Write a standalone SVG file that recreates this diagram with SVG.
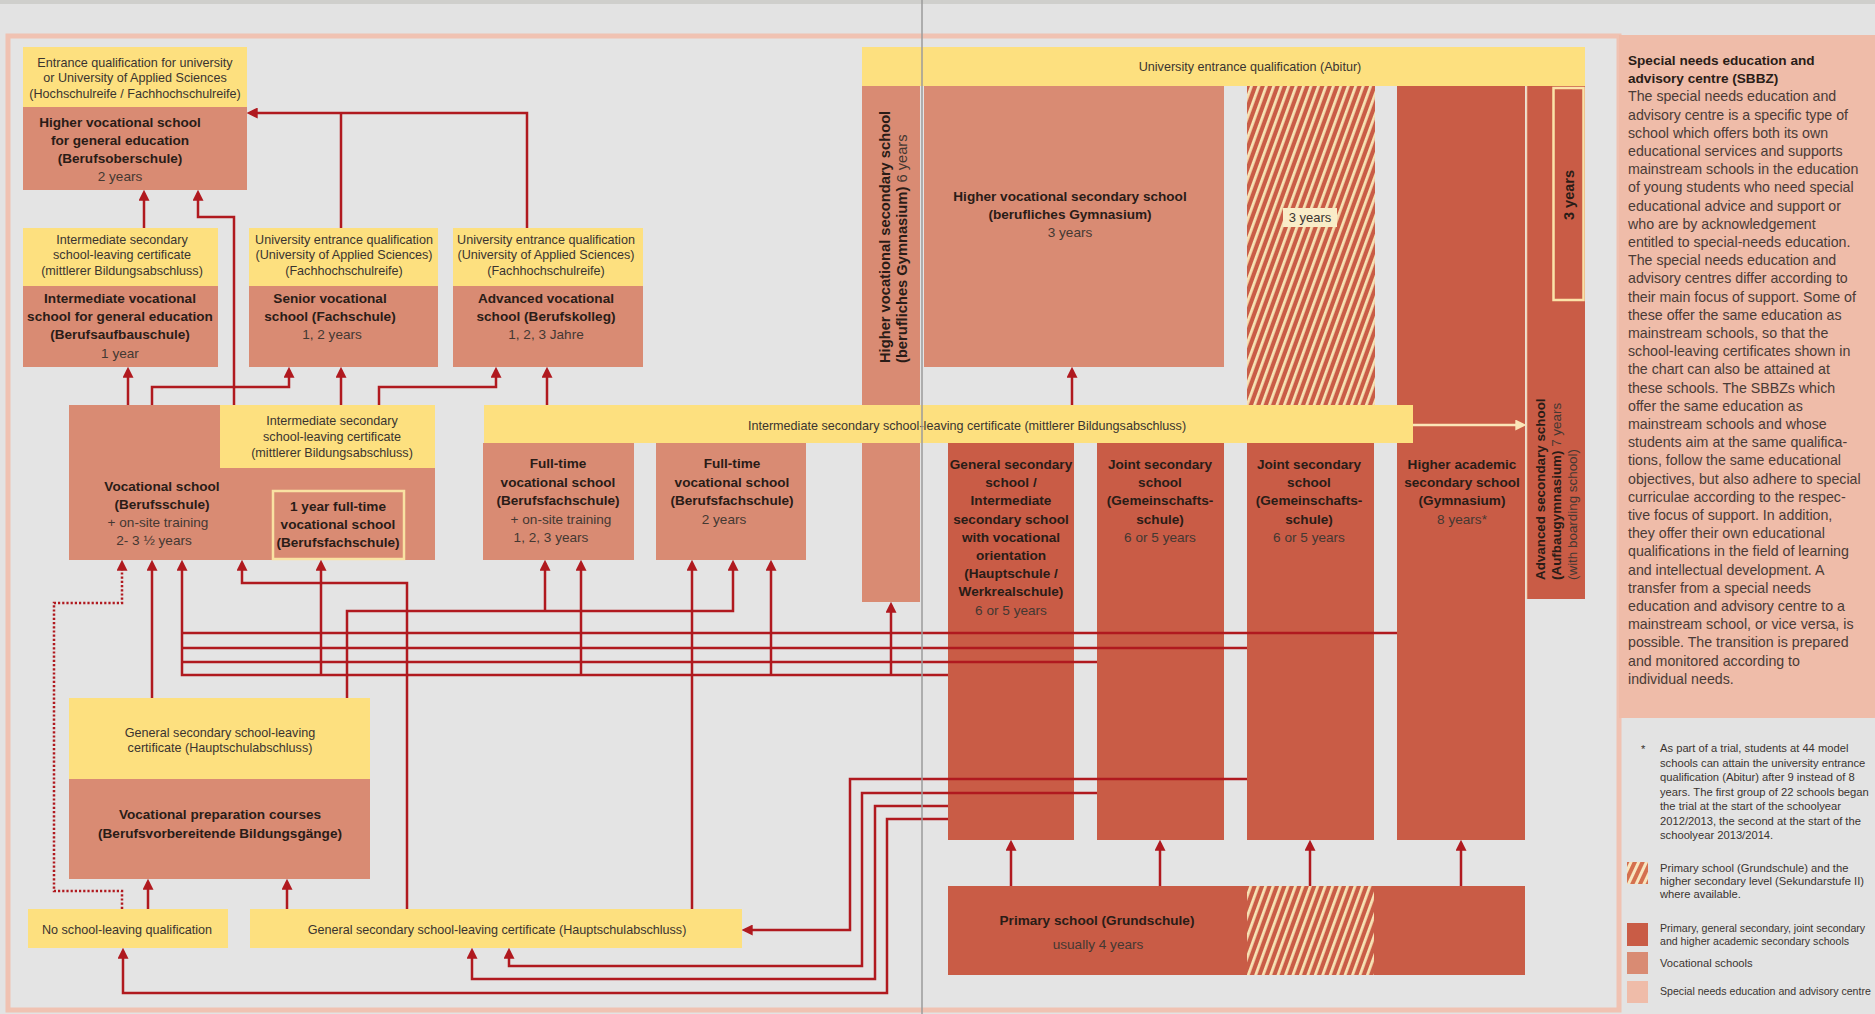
<svg xmlns="http://www.w3.org/2000/svg" width="1875" height="1014" viewBox="0 0 1875 1014">
<defs>
<style>
.y{fill:#fde07f}
.v{fill:#d98b73}
.r{fill:#c95c46}
.p{fill:#efbca9}
text{font-family:"Liberation Sans",Arial,sans-serif}
.t{font-size:12.6px;fill:#3a3430;text-anchor:middle}
.b{font-size:13.6px;font-weight:bold;fill:#2a1c17;text-anchor:middle}
.n{font-size:13.6px;fill:#443832;text-anchor:middle}
.vb{font-size:14.7px;font-weight:bold;fill:#2a1c17}
.vn{font-size:14.7px;fill:#443832}
.lb{font-size:13.4px;font-weight:bold;fill:#2a1c17}
.ln{font-size:13.4px;fill:#443832}
.l3{font-size:14.5px;font-weight:bold;fill:#2a1c17;text-anchor:middle}
.c{fill:none;stroke:#b0191f;stroke-width:2.5;marker-end:url(#ah)}
.cl{fill:none;stroke:#b0191f;stroke-width:2.5}
.d{fill:none;stroke:#b0191f;stroke-width:2.5;stroke-dasharray:2.2 2;marker-end:url(#ah)}
.sb{font-size:14.2px;fill:#4a3b36}
.st{font-size:13.6px;font-weight:bold;fill:#2a1c17}
.lg{font-size:11.2px;fill:#3a3430}
.lg2{font-size:10.6px;fill:#3a3430}
</style>
<marker id="ah" markerUnits="userSpaceOnUse" markerWidth="11" markerHeight="11" viewBox="0 0 10 10" refX="7" refY="5" orient="auto"><path d="M0,0 L10,5 L0,10 z" fill="#b0191f"/></marker>
<marker id="ahc" markerUnits="userSpaceOnUse" markerWidth="11" markerHeight="11" viewBox="0 0 10 10" refX="7" refY="5" orient="auto"><path d="M0,0 L10,5 L0,10 z" fill="#fbe6b8"/></marker>
<pattern id="hatch" patternUnits="userSpaceOnUse" width="7" height="7" patternTransform="rotate(20)"><rect width="7" height="7" fill="#c95c46"/><rect width="2.8" height="7" fill="#f7e3b5"/></pattern>
<pattern id="hatch2" patternUnits="userSpaceOnUse" width="7" height="7" patternTransform="rotate(25)"><rect width="7" height="7" fill="#d4704f"/><rect width="3" height="7" fill="#f8e6c0"/></pattern>
</defs>

<rect x="0" y="0" width="1875" height="1014" fill="#e3e3e3"/>
<rect x="0" y="0" width="1875" height="4" fill="#cfcfcc"/>
<rect x="8" y="36" width="1611" height="974" fill="#e4e4e4" stroke="#f0c2b2" stroke-width="5"/>

<g id="sbbz-panel">
<rect x="1619" y="35" width="256" height="683" class="p"/>
<text class="st"><tspan x="1628" y="65">Special needs education and</tspan><tspan x="1628" y="83.2">advisory centre (SBBZ)</tspan></text>
<text class="sb">
<tspan x="1628" y="101.4">The special needs education and</tspan>
<tspan x="1628" y="119.6">advisory centre is a specific type of</tspan>
<tspan x="1628" y="137.8">school which offers both its own</tspan>
<tspan x="1628" y="156">educational services and supports</tspan>
<tspan x="1628" y="174.2">mainstream schools in the education</tspan>
<tspan x="1628" y="192.4">of young students who need special</tspan>
<tspan x="1628" y="210.6">educational advice and support or</tspan>
<tspan x="1628" y="228.8">who are by acknowledgement</tspan>
<tspan x="1628" y="247">entitled to special-needs education.</tspan>
<tspan x="1628" y="265.2">The special needs education and</tspan>
<tspan x="1628" y="283.4">advisory centres differ according to</tspan>
<tspan x="1628" y="301.6">their main focus of support. Some of</tspan>
<tspan x="1628" y="319.8">these offer the same education as</tspan>
<tspan x="1628" y="338">mainstream schools, so that the</tspan>
<tspan x="1628" y="356.2">school-leaving certificates shown in</tspan>
<tspan x="1628" y="374.4">the chart can also be attained at</tspan>
<tspan x="1628" y="392.6">these schools. The SBBZs which</tspan>
<tspan x="1628" y="410.8">offer the same education as</tspan>
<tspan x="1628" y="429">mainstream schools and whose</tspan>
<tspan x="1628" y="447.2">students aim at the same qualifica-</tspan>
<tspan x="1628" y="465.4">tions, follow the same educational</tspan>
<tspan x="1628" y="483.6">objectives, but also adhere to special</tspan>
<tspan x="1628" y="501.8">curriculae according to the respec-</tspan>
<tspan x="1628" y="520">tive focus of support.  In addition,</tspan>
<tspan x="1628" y="538.2">they offer their own educational</tspan>
<tspan x="1628" y="556.4">qualifications in the field of learning</tspan>
<tspan x="1628" y="574.6">and intellectual development. A</tspan>
<tspan x="1628" y="592.8">transfer from a special needs</tspan>
<tspan x="1628" y="611">education and advisory centre to a</tspan>
<tspan x="1628" y="629.2">mainstream school, or vice versa, is</tspan>
<tspan x="1628" y="647.4">possible. The transition is prepared</tspan>
<tspan x="1628" y="665.6">and monitored according to</tspan>
<tspan x="1628" y="683.8">individual needs.</tspan>
</text>
</g>

<g id="legend">
<text class="lg" x="1641" y="753">*</text>
<text class="lg">
<tspan x="1660" y="752">As part of a trial, students at 44 model</tspan>
<tspan x="1660" y="766.5">schools can attain the university entrance</tspan>
<tspan x="1660" y="781">qualification (Abitur) after 9 instead of 8</tspan>
<tspan x="1660" y="795.5">years. The first group of 22 schools began</tspan>
<tspan x="1660" y="810">the trial at the start of the schoolyear</tspan>
<tspan x="1660" y="824.5">2012/2013, the second at the start of the</tspan>
<tspan x="1660" y="839">schoolyear 2013/2014.</tspan>
</text>
<rect x="1627" y="862" width="21" height="22" fill="url(#hatch2)"/>
<text class="lg"><tspan x="1660" y="872">Primary school (Grundschule) and the</tspan><tspan x="1660" y="885">higher secondary level (Sekundarstufe II)</tspan><tspan x="1660" y="898">where available.</tspan></text>
<rect x="1627" y="923" width="21" height="23" class="r"/>
<text class="lg2"><tspan x="1660" y="932">Primary, general secondary, joint secondary</tspan><tspan x="1660" y="945">and higher academic secondary schools</tspan></text>
<rect x="1627" y="952" width="21" height="22" class="v"/>
<text class="lg" x="1660" y="967">Vocational schools</text>
<rect x="1627" y="981" width="21" height="22" class="p"/>
<text class="lg2" x="1660" y="995">Special needs education and advisory centre</text>
</g>

<g id="berufsoberschule">
<rect x="23" y="47" width="224" height="60" class="y"/>
<rect x="23" y="107" width="224" height="83" class="v"/>
<text class="t"><tspan x="135" y="66.5">Entrance qualification for university</tspan><tspan x="135" y="82">or University of Applied Sciences</tspan><tspan x="135" y="97.5">(Hochschulreife / Fachhochschulreife)</tspan></text>
<text class="b"><tspan x="120" y="127">Higher vocational school</tspan><tspan x="120" y="145">for general education</tspan><tspan x="120" y="163">(Berufsoberschule)</tspan></text>
<text class="n" x="120" y="181">2 years</text>
</g>

<g id="berufsaufbauschule">
<rect x="23" y="228" width="195" height="58" class="y"/>
<rect x="23" y="286" width="195" height="81" class="v"/>
<text class="t"><tspan x="122" y="243.5">Intermediate secondary</tspan><tspan x="122" y="259">school-leaving certificate</tspan><tspan x="122" y="274.5">(mittlerer Bildungsabschluss)</tspan></text>
<text class="b"><tspan x="120" y="303">Intermediate vocational</tspan><tspan x="120" y="321">school for general education</tspan><tspan x="120" y="339">(Berufsaufbauschule)</tspan></text>
<text class="n" x="120" y="358">1 year</text>
</g>

<g id="fachschule">
<rect x="249" y="228" width="189" height="58" class="y"/>
<rect x="249" y="286" width="189" height="81" class="v"/>
<text class="t"><tspan x="344" y="243.5">University entrance qualification</tspan><tspan x="344" y="259">(University of Applied Sciences)</tspan><tspan x="344" y="274.5">(Fachhochschulreife)</tspan></text>
<text class="b"><tspan x="330" y="303">Senior vocational</tspan><tspan x="330" y="321">school (Fachschule)</tspan></text>
<text class="n" x="332" y="339">1, 2 years</text>
</g>

<g id="berufskolleg">
<rect x="453" y="228" width="190" height="58" class="y"/>
<rect x="453" y="286" width="190" height="81" class="v"/>
<text class="t"><tspan x="546" y="243.5">University entrance qualification</tspan><tspan x="546" y="259">(University of Applied Sciences)</tspan><tspan x="546" y="274.5">(Fachhochschulreife)</tspan></text>
<text class="b"><tspan x="546" y="303">Advanced vocational</tspan><tspan x="546" y="321">school (Berufskolleg)</tspan></text>
<text class="n" x="546" y="339">1, 2, 3 Jahre</text>
</g>

<g id="berufsschule">
<rect x="69" y="405" width="366" height="155" class="v"/>
<rect x="220" y="405" width="215" height="63" class="y"/>
<text class="t"><tspan x="332" y="424.5">Intermediate secondary</tspan><tspan x="332" y="440.5">school-leaving certificate</tspan><tspan x="332" y="456.5">(mittlerer Bildungsabschluss)</tspan></text>
<text class="b"><tspan x="162" y="491">Vocational school</tspan><tspan x="162" y="509">(Berufsschule)</tspan></text>
<text class="n"><tspan x="158" y="527">+ on-site training</tspan><tspan x="154" y="545">2- 3 ½ years</tspan></text>
<rect x="273" y="491" width="131" height="68" fill="none" stroke="#f9e2a2" stroke-width="2.5"/>
<text class="b"><tspan x="338" y="511">1 year full-time</tspan><tspan x="338" y="529">vocational school</tspan><tspan x="338" y="547">(Berufsfachschule)</tspan></text>
</g>

<g id="berufsfachschule-training">
<rect x="483" y="443" width="151" height="117" class="v"/>
<text class="b"><tspan x="558" y="468">Full-time</tspan><tspan x="558" y="486.5">vocational school</tspan><tspan x="558" y="505">(Berufsfachschule)</tspan></text>
<text class="n"><tspan x="561" y="524">+ on-site training</tspan><tspan x="551" y="542">1, 2, 3 years</tspan></text>
</g>

<g id="berufsfachschule-2">
<rect x="656" y="443" width="150" height="117" class="v"/>
<text class="b"><tspan x="732" y="468">Full-time</tspan><tspan x="732" y="486.5">vocational school</tspan><tspan x="732" y="505">(Berufsfachschule)</tspan></text>
<text class="n" x="724" y="524">2 years</text>
</g>

<g id="berufliches-gymnasium-6">
<rect x="862" y="86" width="58" height="516" class="v"/>
<text class="vb" transform="translate(890,363) rotate(-90)">Higher vocational secondary school</text>
<text transform="translate(907,363) rotate(-90)"><tspan class="vb">(berufliches Gymnasium)</tspan><tspan class="vn"> 6 years</tspan></text>
</g>

<g id="berufliches-gymnasium-3">
<rect x="924" y="86" width="300" height="281" class="v"/>
<text class="b"><tspan x="1070" y="201">Higher vocational secondary school</tspan><tspan x="1070" y="219">(berufliches Gymnasium)</tspan></text>
<text class="n" x="1070" y="237">3 years</text>
</g>

<g id="sekundarstufe-ii">
<rect x="1247" y="86" width="128" height="320" fill="url(#hatch)"/>
<rect x="1283" y="208" width="54" height="19" fill="#f9ecc8"/>
<text x="1310" y="222" font-size="13" fill="#3a3430" text-anchor="middle">3 years</text>
</g>

<g id="hauptschule">
<rect x="948" y="443" width="126" height="397" class="r"/>
<text class="b"><tspan x="1011" y="469">General secondary</tspan><tspan x="1011" y="487.2">school /</tspan><tspan x="1011" y="505.4">Intermediate</tspan><tspan x="1011" y="523.6">secondary school</tspan><tspan x="1011" y="541.8">with vocational</tspan><tspan x="1011" y="560">orientation</tspan><tspan x="1011" y="578.2">(Hauptschule /</tspan><tspan x="1011" y="596.4">Werkrealschule)</tspan></text>
<text class="n" x="1011" y="614.6">6 or 5 years</text>
</g>

<g id="gemeinschaftsschule-1">
<rect x="1097" y="443" width="127" height="397" class="r"/>
<text class="b"><tspan x="1160" y="469">Joint secondary</tspan><tspan x="1160" y="487.2">school</tspan><tspan x="1160" y="505.4">(Gemeinschafts-</tspan><tspan x="1160" y="523.6">schule)</tspan></text>
<text class="n" x="1160" y="541.8">6 or 5 years</text>
</g>

<g id="gemeinschaftsschule-2">
<rect x="1247" y="443" width="127" height="397" class="r"/>
<text class="b"><tspan x="1309" y="469">Joint secondary</tspan><tspan x="1309" y="487.2">school</tspan><tspan x="1309" y="505.4">(Gemeinschafts-</tspan><tspan x="1309" y="523.6">schule)</tspan></text>
<text class="n" x="1309" y="541.8">6 or 5 years</text>
</g>

<g id="gymnasium">
<rect x="1397" y="86" width="128" height="754" class="r"/>
<text class="b"><tspan x="1462" y="469">Higher academic</tspan><tspan x="1462" y="487.2">secondary school</tspan><tspan x="1462" y="505.4">(Gymnasium)</tspan></text>
<text class="n" x="1462" y="523.6">8 years*</text>
</g>

<g id="aufbaugymnasium">
<rect x="1526" y="86" width="59" height="513" class="r"/>
<line x1="1526.5" y1="86" x2="1526.5" y2="599" stroke="#f3d6b8" stroke-width="1.5"/>
<rect x="1553.5" y="88" width="30" height="212" fill="none" stroke="#fbe3a8" stroke-width="2.5"/>
<text class="l3" transform="translate(1574,195) rotate(-90)">3 years</text>
<text class="lb" transform="translate(1545,580) rotate(-90)">Advanced secondary school</text>
<text transform="translate(1561,580) rotate(-90)"><tspan class="lb">(Aufbaugymnasium)</tspan><tspan class="ln"> 7 years</tspan></text>
<text class="ln" transform="translate(1577,580) rotate(-90)">(with boarding school)</text>
</g>

<g id="abitur">
<rect x="862" y="47" width="723" height="39" class="y"/>
<text class="t" x="1250" y="70.5">University entrance qualification (Abitur)</text>
</g>

<g id="mittlerer-abschluss">
<rect x="484" y="405" width="929" height="38" class="y"/>
<text class="t" x="967" y="429.5">Intermediate secondary school-leaving certificate (mittlerer Bildungsabschluss)</text>
</g>

<g id="grundschule">
<rect x="948" y="886" width="577" height="89" class="r"/>
<rect x="1247" y="886" width="127" height="89" fill="url(#hatch)"/>
<text class="b" x="1097" y="925">Primary school (Grundschule)</text>
<text class="n" x="1098" y="949">usually 4 years</text>
</g>

<g id="berufsvorbereitung">
<rect x="69" y="698" width="301" height="81" class="y"/>
<rect x="69" y="779" width="301" height="100" class="v"/>
<text class="t"><tspan x="220" y="736.5">General secondary school-leaving</tspan><tspan x="220" y="752">certificate (Hauptschulabschluss)</tspan></text>
<text class="b"><tspan x="220" y="819">Vocational preparation courses</tspan><tspan x="220" y="838">(Berufsvorbereitende Bildungsgänge)</tspan></text>
</g>

<g id="ohne-abschluss">
<rect x="28" y="909" width="200" height="39" class="y"/>
<text class="t" x="127" y="934">No school-leaving qualification</text>
</g>

<g id="hauptschulabschluss">
<rect x="250" y="909" width="492" height="39" class="y"/>
<text class="t" x="497" y="934">General secondary school-leaving certificate (Hauptschulabschluss)</text>
</g>

<g id="connectors">
<path class="c" d="M144,228 V193"/>
<path class="c" d="M234,405 V217 H198 V193"/>
<path class="c" d="M527,228 V113 H250"/>
<path class="cl" d="M341,228 V113"/>
<path class="c" d="M128,405 V370"/>
<path class="c" d="M152,405 V387 H289 V370"/>
<path class="c" d="M341,405 V370"/>
<path class="c" d="M379,405 V387 H496 V370"/>
<path class="c" d="M547,405 V370"/>
<path class="c" d="M1072,405 V370"/>
<path class="d" d="M122,909 V891 H54 V603 H122 V563"/>
<path class="c" d="M152,698 V563"/>
<path class="cl" d="M1397,633 H182"/>
<path class="cl" d="M1247,648 H182"/>
<path class="cl" d="M1097,662 H182"/>
<path class="c" d="M948,675 H182 V563"/>
<path class="c" d="M321,675 V563"/>
<path class="c" d="M581,675 V563"/>
<path class="c" d="M771,675 V563"/>
<path class="c" d="M891,675 V605"/>
<path class="c" d="M407,909 V583 H242 V563"/>
<path class="c" d="M347,698 V611 H733 V563"/>
<path class="c" d="M545,611 V563"/>
<path class="c" d="M692,909 V563"/>
<path class="c" d="M148,909 V882"/>
<path class="c" d="M287,909 V882"/>
<path class="c" d="M1247,779 H850 V930 H745"/>
<path class="c" d="M1097,793 H862 V966 H509 V951"/>
<path class="c" d="M948,806 H875 V979 H472 V951"/>
<path class="c" d="M948,819 H887 V993 H123 V951"/>
<path class="c" d="M1011,886 V843"/>
<path class="c" d="M1160,886 V843"/>
<path class="c" d="M1310,886 V843"/>
<path class="c" d="M1461,886 V843"/>
<path d="M1413,425 H1523" fill="none" stroke="#fbe6b8" stroke-width="2.5" marker-end="url(#ahc)"/>
</g>

<line x1="922" y1="0" x2="922" y2="1014" stroke="#9b9b9b" stroke-width="1.5"/>
</svg>
